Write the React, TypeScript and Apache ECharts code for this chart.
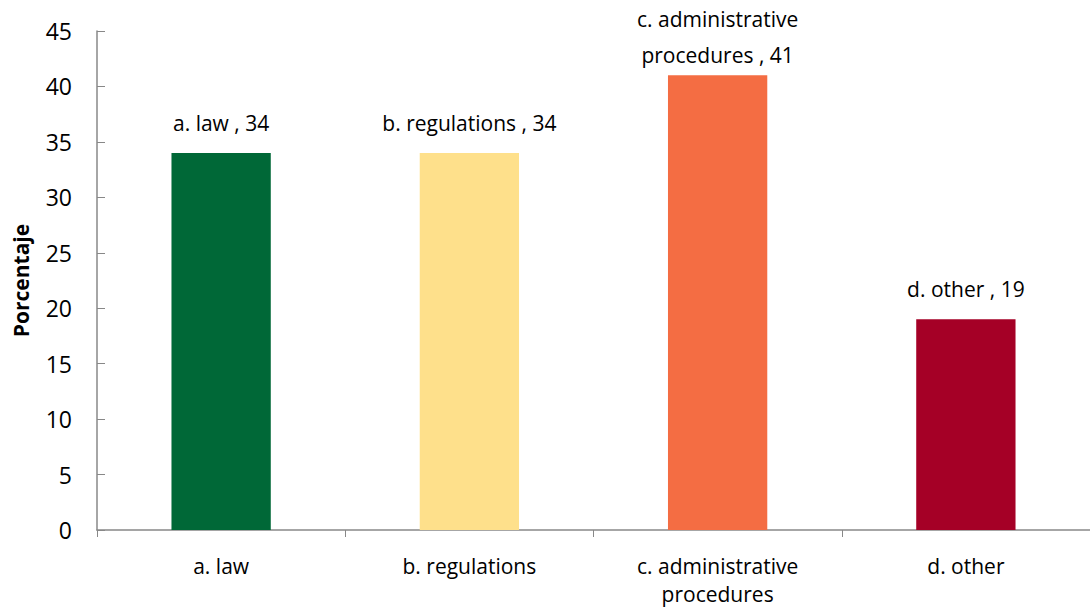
import React, { useEffect, useRef } from "react";
import * as echarts from "echarts";

const categories = ["a. law", "b. regulations", "c. administrative\nprocedures", "d. other"];
const barLabels = ["a. law , 34", "b. regulations , 34", "c. administrative\nprocedures , 41", "d. other , 19"];
const values = [34, 34, 41, 19];
const colors = ["#006837", "#FEE08B", "#F46D43", "#A50026"];
const yTicks = [0, 5, 10, 15, 20, 25, 30, 35, 40, 45];

export default function App() {
  const ref = useRef<HTMLDivElement>(null);
  useEffect(() => {
    if (!ref.current) return;
    const chart = echarts.init(ref.current, null, { renderer: "svg" });
    const font = "'Open Sans', sans-serif";
    chart.setOption({
      animation: false,
      textStyle: { fontFamily: font },
      grid: { left: 97, right: -8, top: 31, bottom: 80 },
      xAxis: {
        type: "category",
        data: categories,
        axisLine: { lineStyle: { color: "#888", width: 1.5 } },
        axisTick: { show: true, length: 7, lineStyle: { color: "#888" } },
        axisLabel: { color: "#000", fontSize: 21, fontFamily: font, margin: 22, lineHeight: 28, interval: 0 },
      },
      yAxis: {
        type: "value",
        min: yTicks[0],
        max: yTicks[yTicks.length - 1],
        interval: 5,
        name: "Porcentaje",
        nameLocation: "middle",
        nameGap: 66,
        nameTextStyle: { fontSize: 21, fontWeight: "bold", color: "#000", fontFamily: font },
        axisLine: { show: true, lineStyle: { color: "#888", width: 1.5 } },
        axisTick: { show: true, inside: true, length: 8, lineStyle: { color: "#888" } },
        splitLine: { show: false },
        axisLabel: { color: "#000", fontSize: 23, fontFamily: font, margin: 25 },
      },
      series: [
        {
          type: "bar",
          barWidth: "40%",
          data: values.map((v, i) => ({
            value: v,
            itemStyle: { color: colors[i] },
            label: barLabels[i].includes("\n") ? { distance: 2, lineHeight: 36 } : undefined,
          })),
          label: {
            show: true,
            position: "top",
            distance: 14,
            color: "#000",
            fontSize: 21,
            lineHeight: 32,
            fontFamily: font,
            formatter: (p: any) => barLabels[p.dataIndex],
          },
        },
      ],
    });
    return () => chart.dispose();
  }, []);
  return (
    <div
      ref={ref}
      style={{ position: "fixed", left: 0, top: 0, width: 1090, height: 610, background: "#fff" }}
    />
  );
}
